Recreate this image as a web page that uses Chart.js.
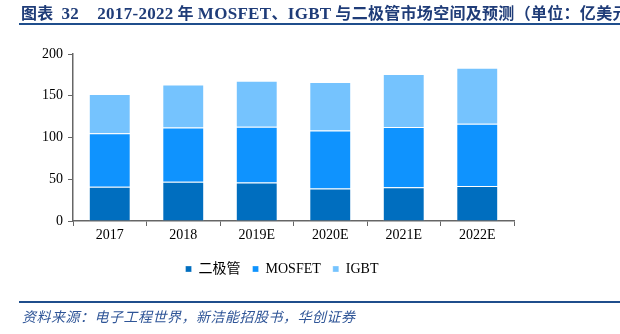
<!DOCTYPE html>
<html>
<head>
<meta charset="utf-8">
<script src="https://cdn.jsdelivr.net/npm/chart.js@4"></script>
<style>
  body { margin: 0; background: #fff; }
  #wrap { position: relative; width: 620px; height: 334px; overflow: hidden; }
  #myChart { position: absolute; left: 0; top: 0; }
  .title {
    position: absolute; left: 21px; top: 0px; white-space: nowrap; letter-spacing: 0.3px;
    font: bold 16px "Noto Sans CJK SC", serif; color: #1f3c78;
  }
  .title .en { font-family: "Liberation Serif", serif; font-size: 17px; }
  .rule { position: absolute; left: 19px; right: 0; height: 2px; background: #1f4e8c; }
  .source {
    position: absolute; left: 22px; top: 306px; white-space: nowrap; letter-spacing: 0.5px;
    font: italic 14px "Noto Sans CJK SC", sans-serif; color: #2f5597;
  }
</style>
</head>
<body>
<div id="wrap">
  <canvas id="myChart" width="620" height="334"></canvas>
  <div class="title">图表&nbsp;&nbsp;<span class="en">32&nbsp;&nbsp;&nbsp;&nbsp;2017-2022</span> 年 <span class="en">MOSFET</span>、<span class="en">IGBT</span> 与二极管市场空间及预测（单位：亿美元）</div>
  <div class="rule" style="top:23px"></div>
  <div class="rule" style="top:301px"></div>
  <div class="source">资料来源：电子工程世界，新洁能招股书，华创证券</div>
</div>
<script>
const ctx = document.getElementById('myChart');

const years = ['2017', '2018', '2019E', '2020E', '2021E', '2022E'];
const diode = [41, 47, 46, 39, 40.5, 42];
const mosfet = [64, 65, 67, 69.5, 72, 74.5];
const igbt = [47, 51.5, 55, 58, 63.5, 67];
const yTicks = [0, 50, 100, 150, 200];

const serif = "'Liberation Serif', 'Times New Roman', 'Noto Sans CJK SC', serif";

// move the legend a bit to the right, like in the original
const legendShift = {
    id: 'legendShift',
    afterLayout(chart) {
        chart.legend.left += 25;
        chart.legend.right += 25;
    }
};

new Chart(ctx, {
    type: 'bar',
    data: {
        labels: years,
        datasets: [{
            label: '二极管',
            data: diode,
            backgroundColor: '#006ebf',
            borderColor: 'rgba(255,255,255,0.3)',
            borderWidth: 1
        }, {
            label: 'MOSFET',
            data: mosfet,
            backgroundColor: '#0f93fe',
            borderColor: 'rgba(255,255,255,0.3)',
            borderWidth: 1
        }, {
            label: 'IGBT',
            data: igbt,
            backgroundColor: '#75c3fe',
            borderColor: 'rgba(255,255,255,0.3)',
            borderWidth: 1
        }]
    },
    options: {
        responsive: false,
        animation: false,
        layout: {
            padding: { left: 0, top: 54, right: 106, bottom: 48 }
        },
        datasets: {
            bar: { categoryPercentage: 0.57, barPercentage: 1 }
        },
        plugins: {
            title: { display: false },
            tooltip: { enabled: false },
            legend: {
                position: 'bottom',
                labels: {
                    boxWidth: 6,
                    boxHeight: 6,
                    padding: 12,
                    color: '#000',
                    font: { family: serif, size: 14 }
                }
            }
        },
        scales: {
            x: {
                stacked: true,
                grid: { drawOnChartArea: false, tickLength: 5, color: '#666', offset: true },
                border: { color: '#666', width: 1.5 },
                ticks: { color: '#000', padding: 1, font: { family: serif, size: 14 } },
                afterFit: s => { s.height = 29; }
            },
            y: {
                stacked: true,
                min: 0,
                max: 200,
                afterBuildTicks: s => { s.ticks = yTicks.map(v => ({ value: v })); },
                grid: { drawOnChartArea: false, tickLength: 5, color: '#666' },
                border: { color: '#666', width: 1.5 },
                ticks: { color: '#000', padding: 5, font: { family: serif, size: 14 } },
                afterFit: s => { s.width = 73; }
            }
        }
    },
    plugins: [legendShift]
});
</script>
</body>
</html>
